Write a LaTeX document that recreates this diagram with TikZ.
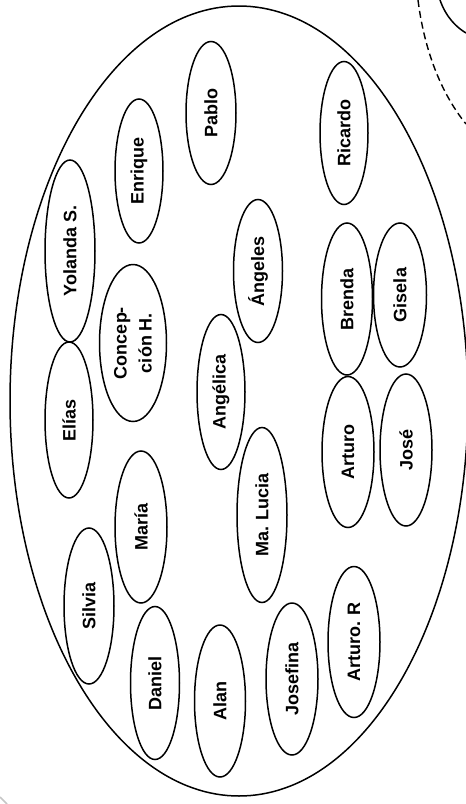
\documentclass[tikz,border=0pt]{standalone}
\usepackage{fontspec}
\setmainfont{Liberation Sans}
\usetikzlibrary{shapes.geometric}

\begin{document}
\begin{tikzpicture}[x=1pt,y=-1pt,
    person/.style={ellipse,draw,line width=1.5pt,rotate=90,inner sep=0pt,
      font=\bfseries\fontsize{18}{25}\selectfont,align=center}]
    \useasboundingbox (0,0) rectangle (466,804);
    % grupo grande
    \node[ellipse,draw,line width=1.5pt,minimum width=458,minimum height=790] (grupo) at (239,401) {};
    \foreach \x/\y/\w/\h/\n/\t in {
      211/113/50/143/pablo/Pablo,
      344/133/48/143/ricardo/Ricardo,
      139/171/48/144/enrique/Enrique,
      70/251/50/182/yolanda/Yolanda S.,
      69/420/48/156/elias/Elías,
      133/343/67/157/concepcion/Concep-\\ción H.,
      258/271/49/143/angeles/Ángeles,
      221/392/48/155/angelica/Angélica,
      347/299/51/152/brenda/Brenda,
      400/295/53/144/gisela/Gisela,
      348/452/52/151/arturo/Arturo,
      406/450/52/152/jose/José,
      141/527/52/152/maria/María,
      262/515/50/175/malucia/Ma. Lucia,
      89/606/50/156/silvia/Silvia,
      155/683/49/153/daniel/Daniel,
      220/701/51/152/alan/Alan,
      292/679/52/152/josefina/Josefina,
      354/642/52/151/arturor/Arturo. R}
    {
      \node[person,minimum width=\h,minimum height=\w] (\n) at (\x,\y) {\t};
    }
    % restos de los otros grupos
    \draw[line width=1.5pt] (440,0) .. controls (446,17) and (456,27) .. (466,33);
    \draw[line width=1.4pt,dash pattern=on 7pt off 4pt] (418,0) .. controls (424,48) and (440,92) .. (466,124);
    \draw[gray!45,line width=1.5pt] (0,797) -- (7,804);
\end{tikzpicture}
\end{document}
